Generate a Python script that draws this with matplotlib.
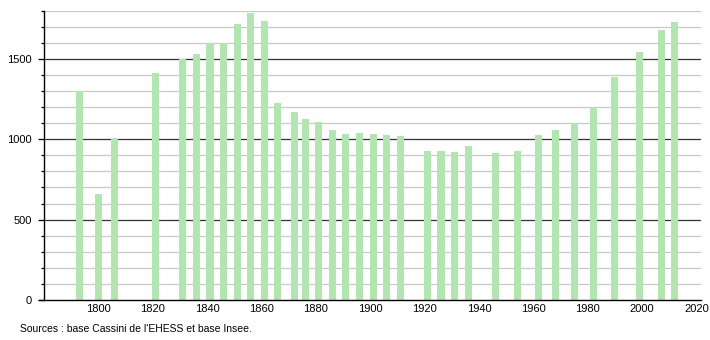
import matplotlib
matplotlib.use("Agg")
import matplotlib.pyplot as plt
from matplotlib.ticker import MultipleLocator

years = [1793, 1800, 1806, 1821, 1831, 1836, 1841, 1846, 1851, 1856, 1861, 1866,
         1872, 1876, 1881, 1886, 1891, 1896, 1901, 1906, 1911, 1921, 1926, 1931,
         1936, 1946, 1954, 1962, 1968, 1975, 1982, 1990, 1999, 2007, 2012]
population = [1302, 656, 1005, 1414, 1501, 1532, 1601, 1600, 1715, 1782, 1732, 1227,
              1171, 1123, 1109, 1059, 1034, 1040, 1034, 1028, 1022, 928, 928, 922,
              959, 916, 928, 1028, 1059, 1101, 1200, 1389, 1539, 1676, 1726]
x_ticks = [1800, 1820, 1840, 1860, 1880, 1900, 1920, 1940, 1960, 1980, 2000, 2020]
y_ticks = [0, 500, 1000, 1500]
source = "Sources : base Cassini de l'EHESS et base Insee."

plt.rcParams['font.family'] = ['Liberation Sans', 'DejaVu Sans']

fig = plt.figure(figsize=(7.1, 3.4), dpi=100)
ax = fig.add_axes([44/710, 40/340, 657/710, 289.5/340])

ax.set_xlim(1779.9, 2021.7)
ax.set_ylim(0, 1800)

for v in range(100, 1801, 100):
    if v % 500 == 0:
        ax.axhline(v, color='#333333', lw=0.9, zorder=1)
    else:
        ax.axhline(v, color='#c8c8c8', lw=0.9, zorder=1)

ax.bar(years, population, width=2.6, color='#b2e5b2', zorder=2)

ax.set_xticks(x_ticks)
ax.set_xticklabels([str(t) for t in x_ticks])
ax.set_yticks(y_ticks)
ax.set_yticklabels([str(t) for t in y_ticks])
ax.yaxis.set_minor_locator(MultipleLocator(100))

ax.tick_params(axis='x', length=0, pad=3, labelsize=8)
ax.tick_params(axis='y', which='major', length=4, width=0.9, pad=5, labelsize=8)
ax.tick_params(axis='y', which='minor', length=2.5, width=0.9)

for s in ['top', 'right']:
    ax.spines[s].set_visible(False)
ax.spines['left'].set_linewidth(1.0)
ax.spines['bottom'].set_linewidth(1.0)
ax.spines['bottom'].set_bounds(1778.0, 2021.7)

fig.text(20/710, 1 - 329/340, source, fontsize=7.5, va='center', ha='left')

fig.savefig('out.png', dpi=100)
